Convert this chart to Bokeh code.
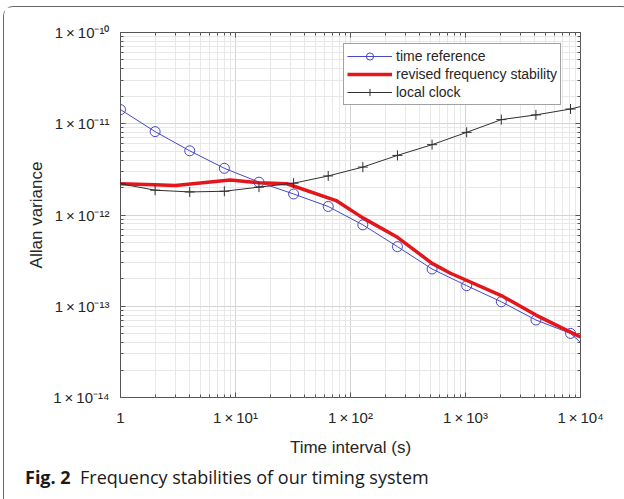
from bokeh.plotting import figure
from bokeh.layouts import column
from bokeh.models import LogAxis, FixedTicker, Legend, LegendItem, Div
from bokeh.embed import file_html
from bokeh.resources import INLINE

# ---- data ----
tau = [1, 2, 4, 8, 16, 32, 64, 128, 256, 512, 1024, 2048, 4096, 8192, 16384]
time_reference = [1.43e-11, 8.2e-12, 5.05e-12, 3.25e-12, 2.29e-12, 1.70e-12, 1.24e-12,
                  7.8e-13, 4.5e-13, 2.56e-13, 1.68e-13, 1.12e-13, 7.07e-14, 5.04e-14, 2.3e-14]
local_clock = [2.2e-12, 1.87e-12, 1.79e-12, 1.82e-12, 2.02e-12, 2.23e-12, 2.68e-12,
               3.35e-12, 4.5e-12, 5.9e-12, 8.05e-12, 1.11e-11, 1.25e-11, 1.45e-11, 1.8e-11]
revised_tau = [1, 2, 3, 9, 16, 28, 75, 128, 256, 512, 740, 2048, 4096, 8192, 10000]
revised = [2.2e-12, 2.15e-12, 2.1e-12, 2.42e-12, 2.26e-12, 2.2e-12, 1.44e-12, 9.3e-13,
           5.7e-13, 2.95e-13, 2.3e-13, 1.31e-13, 8.0e-14, 5.2e-14, 4.6e-14]

T = "\u2009\u00d7\u2009"
x_ticks = [1, 10, 100, 1000, 10000]
x_tick_labels = ["1", "1" + T + "10\u00b9", "1" + T + "10\u00b2", "1" + T + "10\u00b3", "1" + T + "10\u2074"]
y_ticks = [1e-14, 1e-13, 1e-12, 1e-11, 1e-10]
y_tick_labels = ["1" + T + "10\u207b\u00b9\u2074", "1" + T + "10\u207b\u00b9\u00b3", "1" + T + "10\u207b\u00b9\u00b2",
                 "1" + T + "10\u207b\u00b9\u00b9", "1" + T + "10\u207b\u00b9\u2070"]

x_minor = [m * 10 ** e for e in range(0, 4) for m in range(2, 10)]
y_minor = [m * 10.0 ** e for e in range(-14, -10) for m in range(2, 10)]

FONT = "Liberation Sans"
TXT = "#262626"

p = figure(width=617, height=453, x_axis_type="log", y_axis_type="log",
           x_range=(1, 1e4), y_range=(1e-14, 1e-10),
           output_backend="svg", toolbar_location=None,
           min_border_left=116, min_border_right=41, min_border_top=25, min_border_bottom=63,
           background_fill_color="white", border_fill_color="white")

p.outline_line_color = "#555555"
p.outline_line_width = 1

xt = FixedTicker(ticks=x_ticks, minor_ticks=x_minor)
yt = FixedTicker(ticks=y_ticks, minor_ticks=y_minor)
p.xaxis.ticker = xt
p.yaxis.ticker = yt
p.xaxis.major_label_overrides = dict(zip(x_ticks, x_tick_labels))
p.yaxis.major_label_overrides = dict(zip(y_ticks, y_tick_labels))

for ax in (p.xaxis[0], p.yaxis[0]):
    ax.axis_line_color = None
    ax.major_tick_in = 5
    ax.major_tick_out = 0
    ax.minor_tick_in = 3
    ax.minor_tick_out = 0
    ax.major_tick_line_color = "#555555"
    ax.minor_tick_line_color = "#555555"
    ax.major_label_text_font = FONT
    ax.major_label_text_font_size = "15px"
    ax.major_label_text_color = TXT
    ax.axis_label_text_font = FONT
    ax.axis_label_text_font_size = "17px"
    ax.axis_label_text_font_style = "normal"
    ax.axis_label_text_color = TXT

p.xaxis.axis_label = "Time interval (s)"
p.yaxis.axis_label = "Allan variance"
p.xaxis.major_label_standoff = 11
p.xaxis.axis_label_standoff = 9
p.yaxis.major_label_standoff = 11
p.yaxis.axis_label_standoff = 4

for loc, tk in (("above", xt), ("right", yt)):
    ax = LogAxis(ticker=tk, axis_line_color=None, major_tick_in=5, major_tick_out=0,
                 minor_tick_in=3, minor_tick_out=0, major_label_text_font_size="1px",
                 major_label_text_color=None, major_label_standoff=0,
                 major_tick_line_color="#555555", minor_tick_line_color="#555555")
    p.add_layout(ax, loc)

for g in (p.xgrid[0], p.ygrid[0]):
    g.grid_line_color = "#d4d4d4"
    g.minor_grid_line_color = "#e8e8e8"

blue = "#4646c8"
r_blue_line = p.line(tau, time_reference, line_color=blue, line_width=1)
r_blue_pts = p.scatter(tau, time_reference, marker="circle", size=10, fill_color=None,
                       line_color=blue, line_width=1)
r_red = p.line(revised_tau, revised, line_color="#e3161c", line_width=3.5)
r_blk_line = p.line(tau, local_clock, line_color="#303030", line_width=1)
r_blk_pts = p.scatter(tau, local_clock, marker="cross", size=10, line_color="#303030", line_width=1)

legend = Legend(items=[
    LegendItem(label="time reference", renderers=[r_blue_line, r_blue_pts]),
    LegendItem(label="revised frequency stability", renderers=[r_red]),
    LegendItem(label="local clock", renderers=[r_blk_line, r_blk_pts]),
], location=(223, 292))
legend.margin = 0
legend.padding = 3
legend.spacing = 0
legend.glyph_width = 45
legend.glyph_height = 18
legend.label_height = 18
legend.label_standoff = 4
legend.label_text_font = FONT
legend.label_text_font_size = "14px"
legend.label_text_color = TXT
legend.border_line_color = "#444444"
legend.border_line_width = 1
legend.background_fill_color = "white"
legend.background_fill_alpha = 1
p.add_layout(legend, "center")

caption = Div(
    text="<b>Fig.&nbsp;2</b>&nbsp;&nbsp;Frequency stabilities of our timing system",
    width=617, height=39,
    styles={"font-family": "Open Sans", "font-size": "18px", "line-height": "24px",
            "color": "#1a1a1a", "padding-left": "16px"})

layout = column(p, caption, spacing=0,
                styles={"margin-left": "3px", "margin-top": "6px",
                        "border-top": "1px solid #666", "border-left": "1px solid #666",
                        "border-right": "1px solid #666",
                        "border-top-left-radius": "10px", "border-top-right-radius": "10px",
                        "border-bottom-left-radius": "10px", "background": "white"})

open("out.html", "w").write(file_html(layout, INLINE))
